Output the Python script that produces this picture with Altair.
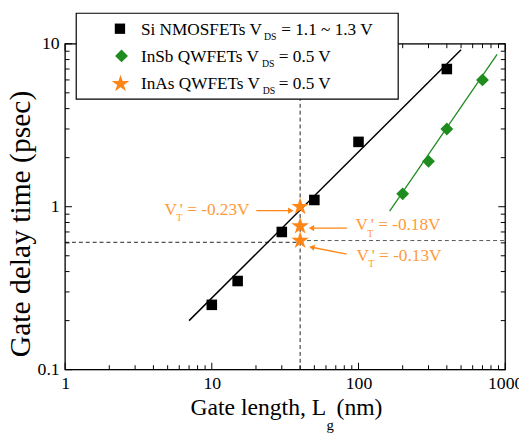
import altair as alt
import pandas as pd

# ---------------- data ----------------
si_lg = [10, 15, 30, 50, 100, 400]
si_tau = [0.25, 0.35, 0.70, 1.1, 2.5, 7.0]

insb_lg = [200, 300, 400, 700]
insb_tau = [1.2, 1.9, 3.0, 6.0]

inas_lg = [40, 40, 40]
inas_tau = [1.0, 0.76, 0.62]
inas_vt = ["-0.23V", "-0.18V", "-0.13V"]

si_fit_lg = [7, 500]
si_fit_tau = [0.2, 9.2]
insb_fit_lg = [163, 880]
insb_fit_tau = [0.94, 8.6]

ref_lg = [40]
ref_left_lg = [1, 40]
ref_left_tau = [0.605]
ref_right_lg = [40, 1000]
ref_right_tau = [0.62]

x_major = [1, 10, 100, 1000]
x_minor = [2, 3, 4, 5, 6, 7, 8, 9, 20, 30, 40, 50, 60, 70, 80, 90,
           200, 300, 400, 500, 600, 700, 800, 900]
y_major = [0.1, 1, 10]
y_minor = [0.2, 0.3, 0.4, 0.5, 0.6, 0.7, 0.8, 0.9, 2, 3, 4, 5, 6, 7, 8, 9]

legend_names = ["Si NMOSFETs V", "InSb QWFETs V", "InAs QWFETs V"]
legend_vds = ["= 1.1 ~ 1.3 V", "= 0.5 V", "= 0.5 V"]

# ---------------- style ----------------
FONT = "Liberation Serif"
W, H = 447, 331
GREEN = "#1e8c1e"
ORANGE = "#ff8515"
ORANGE_T = "#ff9a3a"
STAR = ("M0,-1L0.225,-0.309L0.951,-0.309L0.363,0.118L0.588,0.809L0,0.382"
        "L-0.588,0.809L-0.363,0.118L-0.951,-0.309L-0.225,-0.309Z")

xscale = alt.Scale(type="log", domain=[1, 1000])
yscale = alt.Scale(type="log", domain=[0.1, 10])
xaxis = alt.Axis(values=x_major, format="~g", ticks=False, domain=False, grid=False,
                 labelFont=FONT, labelFontSize=18, labelColor="black", labelPadding=5,
                 labelFlush=False, title="")
yaxis = alt.Axis(values=y_major, format="~g", ticks=False, domain=False, grid=False,
                 labelFont=FONT, labelFontSize=18, labelColor="black", labelPadding=6,
                 labelFlush=False, title="")


def X(f="x"):
    return alt.X(f"{f}:Q", scale=xscale, axis=xaxis)


def Y(f="y"):
    return alt.Y(f"{f}:Q", scale=yscale, axis=yaxis)


one = pd.DataFrame({"a": [0]})


def txt(s, x, y, size, color="black", align="left", angle=None):
    props = dict(font=FONT, fontSize=size, color=color, align=align, baseline="alphabetic")
    if angle is not None:
        props["angle"] = angle
    return alt.Chart(one).mark_text(**props).encode(
        x=alt.value(x), y=alt.value(y), text=alt.value(s))


layers = []

# dashed reference lines
layers.append(alt.Chart(pd.DataFrame({"x": ref_lg, "y": [0.1], "y2": [10]})).mark_rule(
    color="#222", strokeWidth=1, strokeDash=[4, 3]).encode(x=X(), y=Y(), y2="y2:Q"))
layers.append(alt.Chart(pd.DataFrame({"x": [ref_left_lg[0]], "x2": [ref_left_lg[1]], "y": ref_left_tau})).mark_rule(
    color="#222", strokeWidth=1, strokeDash=[4, 3]).encode(x=X(), x2="x2:Q", y=Y()))
layers.append(alt.Chart(pd.DataFrame({"x": [ref_right_lg[0]], "x2": [ref_right_lg[1]], "y": ref_right_tau})).mark_rule(
    color="#555", strokeWidth=1, strokeDash=[4, 3]).encode(x=X(), x2="x2:Q", y=Y()))

# fit lines
layers.append(alt.Chart(pd.DataFrame({"x": si_fit_lg, "y": si_fit_tau})).mark_line(
    color="black", strokeWidth=1.5).encode(x=X(), y=Y()))
layers.append(alt.Chart(pd.DataFrame({"x": insb_fit_lg, "y": insb_fit_tau})).mark_line(
    color=GREEN, strokeWidth=1.3).encode(x=X(), y=Y()))

# data points
layers.append(alt.Chart(pd.DataFrame({"x": si_lg, "y": si_tau})).mark_point(
    shape="square", filled=True, size=115, color="black", opacity=1).encode(x=X(), y=Y()))
layers.append(alt.Chart(pd.DataFrame({"x": insb_lg, "y": insb_tau})).mark_point(
    shape="diamond", filled=True, size=170, color=GREEN, opacity=1).encode(x=X(), y=Y()))
layers.append(alt.Chart(pd.DataFrame({"x": inas_lg, "y": inas_tau})).mark_point(
    shape=STAR, filled=True, size=350, color=ORANGE, opacity=1).encode(x=X(), y=Y()))

# annotations anchored to the stars
ann = [
    dict(vdx=-137.8, vdy=8.3, tail=(-44.5, 4), head=(-9.5, 4), shape="triangle-right", ang=0),
    dict(vdx=56.2, vdy=4.3, tail=(47.5, 2), head=(11.5, 2), shape="triangle-left", ang=0),
    dict(vdx=57.2, vdy=20.6, tail=(47.2, 13.9), head=(11.8, 6.8), shape="triangle-left", ang=11.3),
]
for i, a in enumerate(ann):
    d = pd.DataFrame({"x": [inas_lg[i]], "y": [inas_tau[i]]})
    layers.append(alt.Chart(d).mark_text(font=FONT, fontSize=17.5, color=ORANGE_T, align="left",
                                         baseline="alphabetic", dx=a["vdx"], dy=a["vdy"]).encode(
        x=X(), y=Y(), text=alt.value("V")))
    layers.append(alt.Chart(d).mark_text(font=FONT, fontSize=10, color=ORANGE_T, align="left",
                                         baseline="alphabetic", dx=a["vdx"] + 12, dy=a["vdy"] + 6.5).encode(
        x=X(), y=Y(), text=alt.value("T")))
    layers.append(alt.Chart(d).mark_text(font=FONT, fontSize=17.5, color=ORANGE_T, align="left",
                                         baseline="alphabetic", dx=a["vdx"] + 15.5, dy=a["vdy"]).encode(
        x=X(), y=Y(), text=alt.value("' = " + inas_vt[i])))
    layers.append(alt.Chart(d).mark_rule(color=ORANGE, strokeWidth=1.3,
                                         xOffset=a["tail"][0], yOffset=a["tail"][1],
                                         x2Offset=a["head"][0], y2Offset=a["head"][1]).encode(
        x=X(), y=Y(), x2="x:Q", y2="y:Q"))
    layers.append(alt.Chart(d).mark_point(shape=a["shape"], filled=True, size=40, color=ORANGE,
                                          opacity=1, angle=a["ang"],
                                          xOffset=a["head"][0], yOffset=a["head"][1]).encode(
        x=X(), y=Y()))

# inward ticks on all four sides
for vals, ln in ((x_major, 7), (x_minor, 4.5)):
    d = pd.DataFrame({"x": vals})
    layers.append(alt.Chart(d).mark_rule(color="black", strokeWidth=1).encode(
        x=X(), y=alt.value(H), y2=alt.value(H - ln)))
    layers.append(alt.Chart(d).mark_rule(color="black", strokeWidth=1).encode(
        x=X(), y=alt.value(0), y2=alt.value(ln)))
for vals, ln in ((y_major, 7), (y_minor, 4.5)):
    d = pd.DataFrame({"y": vals})
    layers.append(alt.Chart(d).mark_rule(color="black", strokeWidth=1).encode(
        y=Y(), x=alt.value(0), x2=alt.value(ln)))
    layers.append(alt.Chart(d).mark_rule(color="black", strokeWidth=1).encode(
        y=Y(), x=alt.value(W), x2=alt.value(W - ln)))

# plot frame
layers.append(alt.Chart(one).mark_rect(fill="transparent", stroke="black", strokeWidth=1.3).encode(
    x=alt.value(0), x2=alt.value(W), y=alt.value(0), y2=alt.value(H)))

# legend box
layers.append(alt.Chart(one).mark_rect(fill="white", stroke="black", strokeWidth=1.2).encode(
    x=alt.value(11.3), x2=alt.value(338.3), y=alt.value(-31), y2=alt.value(56.3)))
layers.append(alt.Chart(one).mark_point(shape="square", filled=True, size=110, color="black", opacity=1).encode(
    x=alt.value(55.7), y=alt.value(-15.3)))
layers.append(alt.Chart(one).mark_point(shape="diamond", filled=True, size=170, color=GREEN, opacity=1).encode(
    x=alt.value(57.3), y=alt.value(12.3)))
layers.append(alt.Chart(one).mark_point(shape=STAR, filled=True, size=350, color=ORANGE, opacity=1).encode(
    x=alt.value(56.3), y=alt.value(40.7)))
row_y = [-9.3, 18.3, 45.7]
ds_x = [202, 200, 200.7]
eq_x = [219.5, 217, 217]
for i in range(3):
    layers.append(txt(legend_names[i], 77, row_y[i], 17.5))
    layers.append(txt("DS", ds_x[i], row_y[i] + 5.5, 10))
    layers.append(txt(legend_vds[i], eq_x[i], row_y[i], 17.5))

# axis titles
layers.append(txt("Gate delay time (psec)", -36, 183, 30, align="center", angle=270))
layers.append(txt("Gate length, L", 127.3, 377.3, 24))
layers.append(txt("g", 265.5, 392, 15))
layers.append(txt("(nm)", 275.7, 377.3, 24))

chart = alt.layer(*layers).properties(
    width=W, height=H,
    autosize=alt.AutoSizeParams(type="none"),
    padding={"left": 58, "top": 33, "right": 14, "bottom": 62},
).configure_view(stroke=None).configure(background="white")

chart.save("out.html", embed_options={"renderer": "svg", "actions": False})
